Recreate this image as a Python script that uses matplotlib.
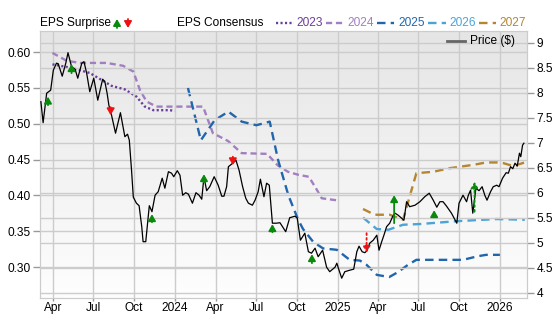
import numpy as np
import pandas as pd
import matplotlib
matplotlib.use("Agg")
import matplotlib.pyplot as plt
from matplotlib.lines import Line2D
from matplotlib.patches import FancyArrowPatch

plt.rcParams['font.family'] = ['Liberation Sans', 'DejaVu Sans']
plt.rcParams['font.size'] = 8.6

# ---- price (right axis) ----
price_dates = [
    "2023-03-05", "2023-03-10", "2023-03-18", "2023-03-27", "2023-04-02", "2023-04-09",
    "2023-04-13", "2023-04-22", "2023-04-30", "2023-05-05", "2023-05-13", "2023-05-21",
    "2023-05-27", "2023-06-05", "2023-06-10", "2023-06-16", "2023-06-23", "2023-07-02",
    "2023-07-11", "2023-07-22", "2023-07-27", "2023-08-01", "2023-08-05", "2023-08-11",
    "2023-08-20", "2023-08-31", "2023-09-10", "2023-09-16", "2023-09-20", "2023-09-25",
    "2023-09-29", "2023-10-06", "2023-10-12", "2023-10-18", "2023-10-21", "2023-10-27",
    "2023-11-04", "2023-11-10", "2023-11-17", "2023-11-24", "2023-12-03", "2023-12-09",
    "2023-12-17", "2023-12-24", "2023-12-29", "2024-01-06", "2024-01-12", "2024-01-18",
    "2024-01-25", "2024-01-31", "2024-02-09", "2024-02-17", "2024-02-24", "2024-03-01",
    "2024-03-06", "2024-03-12", "2024-03-19", "2024-03-29", "2024-04-07", "2024-04-15",
    "2024-04-20", "2024-04-26", "2024-04-30", "2024-05-07", "2024-05-17", "2024-05-24",
    "2024-06-01", "2024-06-08", "2024-06-14", "2024-06-23", "2024-06-29", "2024-07-06",
    "2024-07-11", "2024-07-19", "2024-07-25", "2024-07-31", "2024-08-07", "2024-08-16",
    "2024-08-24", "2024-09-06", "2024-09-15", "2024-09-27", "2024-10-02", "2024-10-09",
    "2024-10-19", "2024-10-27", "2024-11-03", "2024-11-11", "2024-11-18", "2024-11-28",
    "2024-12-07", "2024-12-14", "2024-12-26", "2024-12-30", "2025-01-04", "2025-01-10",
    "2025-01-17", "2025-01-28", "2025-02-06", "2025-02-13", "2025-02-18", "2025-02-25",
    "2025-03-03", "2025-03-08", "2025-03-14", "2025-03-22", "2025-03-30", "2025-04-04",
    "2025-04-10", "2025-04-15", "2025-04-21", "2025-04-28", "2025-05-05", "2025-05-10",
    "2025-05-17", "2025-05-25", "2025-05-30", "2025-06-05", "2025-06-12", "2025-06-24",
    "2025-07-05", "2025-07-16", "2025-07-26", "2025-08-04", "2025-08-12", "2025-08-19",
    "2025-08-26", "2025-09-03", "2025-09-14", "2025-09-26", "2025-10-01", "2025-10-10",
    "2025-10-18", "2025-10-22", "2025-10-27", "2025-11-01", "2025-11-08", "2025-11-15",
    "2025-11-22", "2025-11-28", "2025-12-03", "2025-12-11", "2025-12-17", "2025-12-25",
    "2025-12-30", "2026-01-07", "2026-01-15", "2026-01-20", "2026-01-25", "2026-01-30",
    "2026-02-04", "2026-02-09", "2026-02-14", "2026-02-17", "2026-02-21", "2026-02-24",
]
price_vals = [
    7.82, 7.40, 7.99, 8.05, 8.45, 8.59,
    8.58, 8.33, 8.59, 8.80, 8.52, 8.47,
    8.29, 8.59, 8.62, 8.39, 8.02, 8.29,
    7.85, 8.27, 8.22, 7.99, 7.75, 7.55,
    7.19, 7.60, 7.12, 7.17, 7.05, 6.45,
    5.91, 5.79, 5.74, 5.32, 5.02, 5.02,
    5.74, 5.62, 5.95, 6.02, 6.29, 6.09,
    6.42, 6.39, 6.32, 6.44, 6.35, 5.95,
    6.00, 5.97, 5.79, 6.00, 5.95, 5.87,
    6.32, 6.04, 6.12, 6.32, 6.15, 5.93,
    5.93, 6.12, 6.52, 6.57, 6.65, 6.45,
    6.12, 5.89, 5.79, 5.75, 5.85, 6.02,
    6.27, 5.92, 6.19, 6.15, 5.39, 5.39,
    5.40, 5.22, 5.50, 5.53, 5.49, 5.05,
    5.19, 4.82, 4.79, 4.89, 4.72, 4.85,
    4.51, 4.42, 4.51, 4.59, 4.45, 4.29,
    4.42, 4.45, 4.47, 4.82, 4.93, 4.82,
    4.80, 4.84, 4.99, 5.05, 5.15, 4.85,
    5.02, 5.15, 5.32, 5.39, 5.53, 5.59,
    5.55, 5.49, 5.45, 5.82, 5.72, 5.75,
    5.82, 5.92, 5.99, 5.85, 5.71, 5.82,
    5.82, 5.73, 5.59, 5.39, 5.79, 5.95,
    5.82, 5.95, 6.05, 5.59, 6.09, 6.04,
    6.12, 5.95, 5.85, 6.02, 6.12, 6.15,
    6.12, 6.29, 6.40, 6.39, 6.52, 6.48,
    6.59, 6.53, 6.79, 6.72, 6.95, 6.99,
]

# ---- EPS consensus (left axis) ----
eps23_dates = ["2023-03-31", "2023-05-13", "2023-06-23", "2023-07-20", "2023-08-11",
               "2023-09-10", "2023-10-06", "2023-10-25", "2023-11-13", "2023-12-20", "2023-12-31"]
eps23_vals = [0.583, 0.578, 0.571, 0.561, 0.553, 0.548, 0.538, 0.524, 0.519, 0.519, 0.518]

eps24_dates = ["2023-03-31", "2023-05-02", "2023-06-01", "2023-07-31", "2023-09-06",
               "2023-09-29", "2023-10-14", "2023-10-29", "2023-11-20", "2023-12-31",
               "2024-03-04", "2024-03-26", "2024-04-29", "2024-05-30", "2024-07-26",
               "2024-08-19", "2024-09-11", "2024-10-03", "2024-10-28", "2024-11-13",
               "2024-11-26", "2025-01-01"]
eps24_vals = [0.599, 0.588, 0.585, 0.585, 0.581, 0.573, 0.547, 0.531, 0.524, 0.524,
              0.524, 0.487, 0.476, 0.459, 0.458, 0.442, 0.433, 0.429, 0.426, 0.410,
              0.396, 0.393]

eps25_dates = ["2024-01-30", "2024-02-28", "2024-03-30", "2024-04-30", "2024-05-30",
               "2024-07-02", "2024-08-01", "2024-08-20", "2024-09-12", "2024-10-04",
               "2024-10-15", "2024-11-07", "2024-11-29", "2024-12-30", "2025-01-28",
               "2025-02-20", "2025-03-07", "2025-03-30", "2025-04-27", "2025-05-17",
               "2025-06-08", "2025-06-27", "2025-07-27", "2025-10-10", "2025-11-12",
               "2025-12-01", "2026-01-01"]
eps25_vals = [0.550, 0.477, 0.505, 0.517, 0.503, 0.498, 0.503, 0.449, 0.400, 0.366,
              0.353, 0.335, 0.326, 0.324, 0.310, 0.309, 0.303, 0.289, 0.286, 0.293,
              0.303, 0.310, 0.310, 0.310, 0.315, 0.317, 0.317]

eps26_dates = ["2025-02-27", "2025-03-30", "2025-04-25", "2025-05-28", "2025-07-05",
               "2025-09-26", "2025-12-25", "2026-02-26"]
eps26_vals = [0.369, 0.353, 0.352, 0.359, 0.360, 0.364, 0.367, 0.366]

eps27_dates = ["2025-02-27", "2025-03-25", "2025-04-28", "2025-05-28", "2025-06-27",
               "2025-08-04", "2025-09-10", "2025-10-03", "2025-11-05", "2025-12-01",
               "2025-12-25", "2026-01-09", "2026-01-31", "2026-02-26"]
eps27_vals = [0.381, 0.373, 0.373, 0.366, 0.431, 0.433, 0.438, 0.440, 0.443, 0.446,
              0.446, 0.445, 0.441, 0.446]

# ---- EPS surprise arrows (price units: tail -> tip) ----
up_dates = ["2023-03-21", "2023-05-13", "2023-11-10", "2024-03-06", "2024-08-07",
            "2024-11-04", "2025-05-08", "2025-08-06", "2025-11-05"]
up_tail = [7.75, 8.39, 5.41, 6.21, 5.21, 4.59, 5.39, 5.52, 5.62]
up_tip = [7.92, 8.57, 5.57, 6.37, 5.37, 4.77, 5.95, 5.65, 6.22]
up_style = ["-", "-", "-", "-", "-", "-", "-", "-", ":"]

down_dates = ["2023-08-09", "2024-05-10", "2025-03-07"]
down_tail = [7.71, 6.72, 5.19]
down_tip = [7.55, 6.55, 4.80]
down_style = ["-", "-", ":"]

series_names = ["2023", "2024", "2025", "2026", "2027"]
series_colors = ["#6a3d9a", "#a27fc0", "#2166ac", "#4ba3d6", "#b5852f"]

tick_dates = ["2023-04-01", "2023-07-01", "2023-10-01", "2024-01-01", "2024-04-01",
              "2024-07-01", "2024-10-01", "2025-01-01", "2025-04-01", "2025-07-01",
              "2025-10-01", "2026-01-01"]
tick_labels = ["Apr", "Jul", "Oct", "2024", "Apr", "Jul", "Oct", "2025", "Apr", "Jul",
               "Oct", "2026"]

W, H = 556, 315
fig = plt.figure(figsize=(W / 100, H / 100), dpi=100)
ax = fig.add_axes([40 / W, 1 - 298.3 / H, 487 / W, 267.6 / H])
ax2 = ax.twinx()

grid_c = "#cccccc"
# background gradient
grad = np.linspace(0, 1, 256).reshape(-1, 1)
ax.imshow(grad, extent=[0, 1, 0, 1], transform=ax.transAxes, aspect="auto",
          cmap=matplotlib.colors.LinearSegmentedColormap.from_list("bg", ["#e5e5e5", "#fefefe"]),
          zorder=-10, origin="upper")

ax.set_ylim(0.2563, 0.630)
ax2.set_ylim(3.888, 9.24)
ax.set_xlim(pd.Timestamp("2023-03-03"), pd.Timestamp("2026-03-03"))

ax.set_yticks([0.30, 0.35, 0.40, 0.45, 0.50, 0.55, 0.60])
ax.set_yticklabels(["0.30", "0.35", "0.40", "0.45", "0.50", "0.55", "0.60"])
ax2.set_yticks([4, 4.5, 5, 5.5, 6, 6.5, 7, 7.5, 8, 8.5, 9])
ax2.set_yticklabels(["4", "4.5", "5", "5.5", "6", "6.5", "7", "7.5", "8", "8.5", "9"])
ax.set_xticks(pd.to_datetime(tick_dates))
ax.set_xticklabels(tick_labels)

ax.grid(True, color=grid_c, lw=1)
ax2.grid(True, axis="y", color=grid_c, lw=1)
ax.set_axisbelow(True)
for a in (ax, ax2):
    for s in a.spines.values():
        s.set_color(grid_c)
    a.tick_params(colors="#999999", labelcolor="black", length=5, width=1, pad=2)
ax.tick_params(axis="x", length=2, pad=0.5)

eps_sets = [(eps23_dates, eps23_vals), (eps24_dates, eps24_vals), (eps25_dates, eps25_vals),
            (eps26_dates, eps26_vals), (eps27_dates, eps27_vals)]
eps_dash = [(0, (0.9, 1.0)), (0, (2.6, 1.6)), (0, (3.6, 2.2)), (0, (3.6, 2.2)), (0, (3.6, 2.2))]
for (d, v), c, ls in zip(eps_sets, series_colors, eps_dash):
    ax.plot(pd.to_datetime(d), v, color=c, lw=1.7, linestyle=ls, zorder=3)

ax2.plot(pd.to_datetime(price_dates), price_vals, color="black", lw=0.9, zorder=4)

arrow_style = "-|>,head_length=0.38,head_width=0.22"
for d, t0, t1, st in zip(up_dates, up_tail, up_tip, up_style):
    ax2.annotate("", xy=(pd.Timestamp(d), t1), xytext=(pd.Timestamp(d), t0),
                 arrowprops=dict(arrowstyle=arrow_style, color="#0a8a0a", lw=1.3,
                                 linestyle=st, shrinkA=0, shrinkB=0, mutation_scale=10),
                 zorder=5)
for d, t0, t1, st in zip(down_dates, down_tail, down_tip, down_style):
    ax2.annotate("", xy=(pd.Timestamp(d), t1), xytext=(pd.Timestamp(d), t0),
                 arrowprops=dict(arrowstyle=arrow_style, color="#ee1111", lw=1.3,
                                 linestyle=st, shrinkA=0, shrinkB=0, mutation_scale=10),
                 zorder=5)

# ---- header legend ----
def fx(px):
    return px / W

def fy(py):
    return 1 - py / H

fig.text(fx(40.5), fy(23), "EPS Surprise", va="center", ha="left")
fig.add_artist(FancyArrowPatch((fx(117), fy(28)), (fx(117), fy(19)),
               transform=fig.transFigure, arrowstyle=arrow_style,
               mutation_scale=10, color="#0a8a0a", lw=1.3, shrinkA=0, shrinkB=0))
fig.add_artist(FancyArrowPatch((fx(128), fy(19)), (fx(128), fy(28)),
               transform=fig.transFigure, arrowstyle=arrow_style,
               mutation_scale=10, color="#ee1111", lw=1.3, shrinkA=0, shrinkB=0))
fig.text(fx(177), fy(23), "EPS Consensus", va="center", ha="left")

leg_line_x = [(276, 294), (326, 343), (377, 394), (428, 446), (479, 496)]
leg_text_x = [296, 347, 398, 449, 499]
for name, c, ls, (x0, x1), tx in zip(series_names, series_colors, eps_dash, leg_line_x, leg_text_x):
    fig.add_artist(Line2D([fx(x0), fx(x1)], [fy(23), fy(23)], transform=fig.transFigure,
                          color=c, lw=1.7, linestyle=ls))
    fig.text(fx(tx), fy(23), name, va="center", ha="left", color=c)

fig.add_artist(Line2D([fx(447), fx(465)], [fy(41), fy(41)], transform=fig.transFigure,
                      color="#666666", lw=2))
fig.text(fx(470), fy(41), "Price ($)", va="center", ha="left")

fig.savefig("out.png", dpi=100)
